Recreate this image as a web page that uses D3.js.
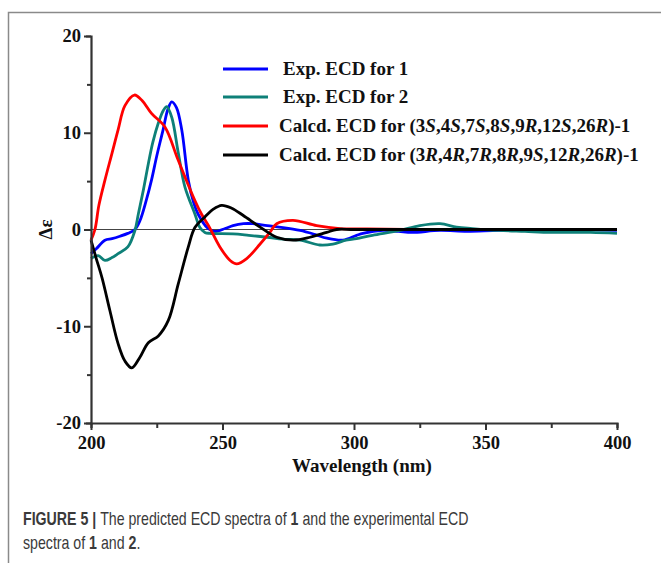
<!DOCTYPE html>
<html>
<head>
<meta charset="utf-8">
<script src="https://cdn.jsdelivr.net/npm/d3@7"></script>
<style>
  body { margin: 0; background: #fff; }
  svg text { font-family: "Liberation Serif", "Times New Roman", serif; }
  .cap { font-family: "Liberation Sans", Arial, sans-serif; fill: #3a3a3a; }
</style>
</head>
<body>
<svg id="chart" width="661" height="563"></svg>
<script>
// spectra: wavelength (nm) and delta epsilon
var exp1_nm  = [200, 202, 205.3, 208, 211, 214, 216.7, 218.6, 221, 223, 225, 227.4, 229.2, 230.7, 232.5, 234.5, 237, 239, 240.7, 244.5, 247, 251, 254, 258, 261.6, 267, 273, 279.5, 285, 289.7, 295.8, 301, 303.4, 311, 317, 322, 332.7, 343, 355, 370, 385, 400];
var exp1_val = [-2.5, -2.0, -1.1, -0.95, -0.7, -0.4, 0, 0.9, 3.0, 5.1, 7.6, 10.3, 12.4, 13.2, 12.6, 10.3, 5.1, 2.8, 1.6, 0.1, -0.2, 0.1, 0.4, 0.6, 0.6, 0.4, 0.2, -0.1, -0.5, -0.9, -1.1, -0.6, -0.4, -0.1, -0.2, -0.3, -0.1, -0.2, -0.1, -0.1, 0, -0.1];

var exp2_nm  = [200, 202.7, 205.3, 208, 210.3, 214, 216.7, 218, 220, 221.8, 223.5, 225.6, 227.5, 228.8, 230.7, 233.2, 235.7, 239.5, 241.4, 243.3, 245.2, 254, 260, 267, 273, 279.5, 287, 292, 297, 299.6, 307, 317.5, 325, 332.7, 339, 345, 355, 365, 375, 390, 400];
var exp2_val = [-3.0, -2.7, -3.2, -2.9, -2.5, -1.8, -0.1, 1.6, 4.2, 6.8, 9.0, 11.0, 12.3, 12.7, 11.6, 7.9, 4.4, 1.6, 0.2, -0.3, -0.4, -0.45, -0.6, -0.8, -1.0, -1.1, -1.6, -1.5, -1.1, -1.0, -0.6, -0.1, 0.4, 0.6, 0.25, 0.1, -0.1, -0.2, -0.3, -0.3, -0.4];

var calcS_nm  = [200, 201.5, 203, 205.3, 208, 210.3, 212.9, 216.5, 219.5, 223, 228.1, 233.1, 239.5, 242, 245, 249, 252.9, 255.4, 259.2, 264.3, 268, 270.6, 276.8, 285.8, 294.7, 305, 320, 340, 370, 400];
var calcS_val = [-1.1, 0, 2.5, 5.1, 7.9, 10.3, 12.8, 13.9, 13.3, 12.0, 10.6, 7.2, 3.0, 1.6, 0.25, -1.8, -3.2, -3.55, -3.0, -1.5, -0.3, 0.6, 0.95, 0.4, 0.1, 0.05, 0, 0, 0, 0];

var calcR_nm  = [200, 202, 204.2, 207.2, 210.3, 212.9, 215.5, 218.6, 221.8, 225.6, 229.4, 233.2, 237, 239.5, 243.3, 246.5, 249.7, 253.5, 257.9, 264.3, 270.6, 276.9, 283.3, 289.6, 293.4, 300, 330, 370, 400];
var calcR_val = [-1.1, -3.0, -5.0, -8.4, -11.8, -13.6, -14.3, -13.2, -11.7, -11.0, -9.4, -5.6, -1.8, 0.2, 1.3, 2.1, 2.5, 2.2, 1.45, 0.25, -0.8, -1.1, -0.8, -0.3, 0, 0, 0, 0, 0];

var xTicks = [200, 250, 300, 350, 400];
var yTicks = [-20, -10, 0, 10, 20];

var series = [
  { nm: exp1_nm,  val: exp1_val,  color: "#0000ff", label: "Exp. ECD for 1" },
  { nm: exp2_nm,  val: exp2_val,  color: "#0e8078", label: "Exp. ECD for 2" },
  { nm: calcS_nm, val: calcS_val, color: "#ff0000", label: "Calcd. ECD for (3S,4S,7S,8S,9R,12S,26R)-1" },
  { nm: calcR_nm, val: calcR_val, color: "#000000", label: "Calcd. ECD for (3R,4R,7R,8R,9S,12R,26R)-1" }
];

var svg = d3.select("#chart");

// outer figure frame (left + top only, rest is cropped)
svg.append("path")
  .attr("d", "M8.5,563 L8.5,12.5 L661,12.5")
  .attr("fill", "none")
  .attr("stroke", "#8a8a8a")
  .attr("stroke-width", 1.5);

var m = { left: 91, right: 617, top: 36, bottom: 423 };

var x = d3.scaleLinear().domain([200, 400]).range([m.left, m.right]);
var y = d3.scaleLinear().domain([-20, 20]).range([m.bottom, m.top]);

// zero line
svg.append("line")
  .attr("x1", x(200)).attr("x2", x(400))
  .attr("y1", y(0)).attr("y2", y(0))
  .attr("stroke", "#444").attr("stroke-width", 1);

var line = d3.line()
  .x(function(d) { return x(d[0]); })
  .y(function(d) { return y(d[1]); })
  .curve(d3.curveCatmullRom.alpha(0.5));

series.forEach(function(s) {
  var pts = s.nm.map(function(v, i) { return [v, s.val[i]]; });
  svg.append("path")
    .datum(pts)
    .attr("d", line)
    .attr("fill", "none")
    .attr("stroke", s.color)
    .attr("stroke-width", 2.8)
    .attr("stroke-linejoin", "round");
});

// axes
var xAxis = svg.append("g")
  .attr("transform", "translate(0," + m.bottom + ")")
  .call(d3.axisBottom(x).tickValues(d3.range(200, 401, 25)).tickSize(5)
    .tickFormat(function(d) { return xTicks.indexOf(d) >= 0 ? d : ""; }));
xAxis.selectAll(".tick line").attr("y2", function(d) { return xTicks.indexOf(d) >= 0 ? 7 : 5; });

var yAxis = svg.append("g")
  .attr("transform", "translate(" + m.left + ",0)")
  .call(d3.axisLeft(y).tickValues(d3.range(-20, 21, 5)).tickSize(5)
    .tickFormat(function(d) { return yTicks.indexOf(d) >= 0 ? d : ""; }));
yAxis.selectAll(".tick line").attr("x2", function(d) { return yTicks.indexOf(d) >= 0 ? -7 : -4; });

[xAxis, yAxis].forEach(function(a) {
  a.select(".domain").attr("stroke", "#333").attr("stroke-width", 2.2);
  a.selectAll(".tick line").attr("stroke", "#333").attr("stroke-width", 2);
  a.selectAll(".tick text")
    .attr("fill", "#111")
    .style("font-family", "'Liberation Serif', serif")
    .style("font-size", "18.5px")
    .style("font-weight", "bold");
});
xAxis.selectAll(".tick text").attr("dy", "0.95em");
yAxis.selectAll(".tick text").attr("x", -10);

// axis titles
svg.append("text")
  .attr("x", 362)
  .attr("y", 472)
  .attr("text-anchor", "middle")
  .style("font-size", "19px").style("font-weight", "bold").attr("fill", "#111")
  .text("Wavelength (nm)");

svg.append("text")
  .attr("transform", "translate(52," + y(0) + ") rotate(-90)")
  .attr("text-anchor", "middle")
  .style("font-size", "19px").style("font-weight", "bold").attr("fill", "#111")
  .text("Δε");

// legend
var legendY = [69, 97, 126, 155];
var legend = svg.append("g");
series.forEach(function(s, i) {
  legend.append("line")
    .attr("x1", 223).attr("x2", 268)
    .attr("y1", legendY[i]).attr("y2", legendY[i])
    .attr("stroke", s.color).attr("stroke-width", 3);
  var t = legend.append("text")
    .attr("x", i < 2 ? 283 : 279)
    .attr("y", legendY[i] + 6)
    .style("font-size", "19px").style("font-weight", "bold").attr("fill", "#111");
  // italic stereo descriptors S / R
  s.label.split(/(\d+[SR])/).forEach(function(part) {
    var mm = part.match(/^(\d+)([SR])$/);
    if (mm) {
      t.append("tspan").text(mm[1]);
      t.append("tspan").style("font-style", "italic").text(mm[2]);
    } else if (part.length) {
      t.append("tspan").text(part);
    }
  });
});

// caption (original uses a narrow sans, so squeeze horizontally)
var cap1 = svg.append("text").attr("class", "cap")
  .attr("transform", "translate(23,525) scale(0.81,1)")
  .style("font-size", "17.5px");
cap1.append("tspan").style("font-weight", "bold").text("FIGURE 5 | ");
cap1.append("tspan").text("The predicted ECD spectra of ");
cap1.append("tspan").style("font-weight", "bold").text("1");
cap1.append("tspan").text(" and the experimental ECD");

var cap2 = svg.append("text").attr("class", "cap")
  .attr("transform", "translate(23,549) scale(0.81,1)")
  .style("font-size", "17.5px");
cap2.append("tspan").text("spectra of ");
cap2.append("tspan").style("font-weight", "bold").text("1");
cap2.append("tspan").text(" and ");
cap2.append("tspan").style("font-weight", "bold").text("2");
cap2.append("tspan").text(".");
</script>
</body>
</html>
